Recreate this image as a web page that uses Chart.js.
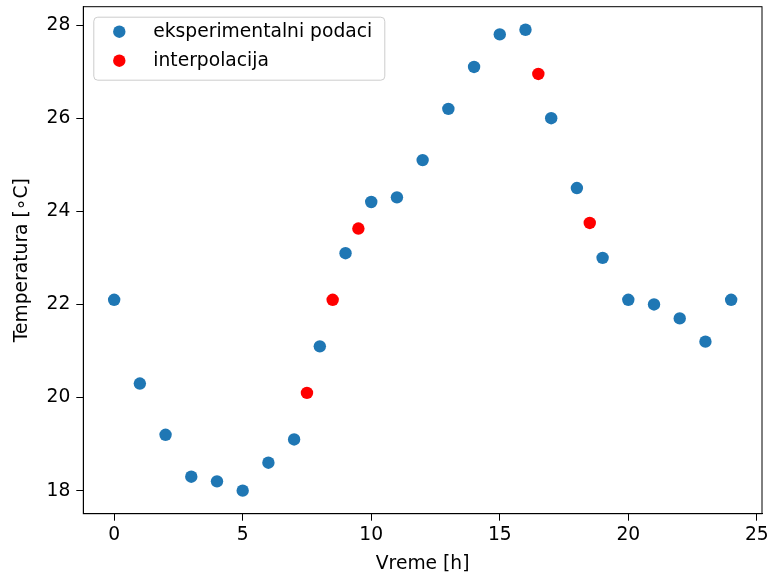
<!DOCTYPE html>
<html>
<head>
<meta charset="utf-8">
<script src="https://cdn.jsdelivr.net/npm/chart.js@4/dist/chart.umd.min.js"></script>
<style>
  html, body { margin: 0; padding: 0; background: #fff; }
  #wrap { width: 769px; height: 573px; }
</style>
</head>
<body>
<div id="wrap"><canvas id="c" width="769" height="573"></canvas></div>
<script>
// ---- data ----
const hours = [0, 1, 2, 3, 4, 5, 6, 7, 8, 9, 10, 11, 12, 13, 14, 15, 16, 17, 18, 19, 20, 21, 22, 23, 24];
const temps = [22.1, 20.3, 19.2, 18.3, 18.2, 18.0, 18.6, 19.1, 21.1, 23.1, 24.2, 24.3, 25.1, 26.2, 27.1, 27.8, 27.9, 26.0, 24.5, 23.0, 22.1, 22.0, 21.7, 21.2, 22.1];
const interpHours = [7.5, 8.5, 9.5, 16.5, 18.5];
const interpTemps = [20.1, 22.1, 23.63, 26.95, 23.75];
const xTicks = [0, 5, 10, 15, 20, 25];
const yTicks = [18, 20, 22, 24, 26, 28];
const seriesLabels = ['eksperimentalni podaci', 'interpolacija'];
const xTitle = 'Vreme [h]';
const yTitle = 'Temperatura [\u2218C]';

const FONT = 'DejaVu Sans';
const FS = 18.7;

const toXY = (xs, ys) => xs.map((x, i) => ({ x: x, y: ys[i] }));

const frameAndLegend = {
  id: 'frameAndLegend',
  afterDraw(chart) {
    const { ctx, chartArea: a } = chart;
    ctx.save();
    ctx.strokeStyle = '#000';
    ctx.lineWidth = 1;
    ctx.strokeRect(a.left, a.top, a.right - a.left, a.bottom - a.top);
    // legend
    const lx = a.left + 10, ly = a.top + 10, lw = 291, lh = 63;
    ctx.beginPath();
    ctx.roundRect(lx + 0.5, ly + 0.5, lw, lh, 4);
    ctx.fillStyle = 'rgba(255,255,255,0.8)';
    ctx.fill();
    ctx.strokeStyle = '#cccccc';
    ctx.stroke();
    ctx.font = FS + 'px "' + FONT + '"';
    ctx.textBaseline = 'middle';
    ctx.textAlign = 'left';
    chart.data.datasets.forEach((ds, i) => {
      const cy = ly + 15 + i * 29;
      ctx.beginPath();
      ctx.arc(lx + 26, cy, 6.2, 0, Math.PI * 2);
      ctx.fillStyle = ds.backgroundColor;
      ctx.fill();
      ctx.fillStyle = '#000';
      ctx.fillText(ds.label, lx + 60, cy);
    });
    ctx.restore();
  }
};

new Chart(document.getElementById('c'), {
  type: 'scatter',
  data: {
    datasets: [
      { label: seriesLabels[0], data: toXY(hours, temps), backgroundColor: '#1f77b4', borderColor: '#1f77b4', pointRadius: 6.2, pointHoverRadius: 6.2, borderWidth: 0 },
      { label: seriesLabels[1], data: toXY(interpHours, interpTemps), backgroundColor: '#ff0000', borderColor: '#ff0000', pointRadius: 6.2, pointHoverRadius: 6.2, borderWidth: 0 }
    ]
  },
  options: {
    responsive: false,
    animation: false,
    devicePixelRatio: 1,
    layout: { padding: { left: 0, right: 7, top: 6.7, bottom: 0 } },
    plugins: { legend: { display: false }, tooltip: { enabled: false } },
    events: [],
    scales: {
      x: {
        type: 'linear',
        min: -1.2, max: 25.2,
        afterBuildTicks: s => { s.ticks = xTicks.map(v => ({ value: v })); },
        afterFit: s => { s.height = 59.3; s.paddingLeft = 0; s.paddingRight = 0; },
        grid: { display: true, drawOnChartArea: false, drawTicks: true, tickLength: 7, tickColor: '#000', tickWidth: 1 },
        border: { display: true, color: '#000', width: 1 },
        ticks: { color: '#000', padding: 3, maxRotation: 0, font: { family: FONT, size: FS } },
        title: { display: true, text: xTitle, color: '#000', padding: { top: 0, bottom: 0 }, font: { family: FONT, size: FS, lineHeight: 1.0 } }
      },
      y: {
        type: 'linear',
        min: 17.505, max: 28.395,
        afterBuildTicks: s => { s.ticks = yTicks.map(v => ({ value: v })); },
        afterFit: s => { s.width = 83.3; s.paddingTop = 0; s.paddingBottom = 0; },
        grid: { display: true, drawOnChartArea: false, drawTicks: true, tickLength: 7, tickColor: '#000', tickWidth: 1 },
        border: { display: true, color: '#000', width: 1 },
        ticks: { color: '#000', padding: 6, font: { family: FONT, size: FS } },
        title: { display: true, text: yTitle, color: '#000', padding: { top: 13, bottom: 0 }, font: { family: FONT, size: FS, lineHeight: 1.0 } }
      }
    }
  },
  plugins: [frameAndLegend]
});
</script>
</body>
</html>
